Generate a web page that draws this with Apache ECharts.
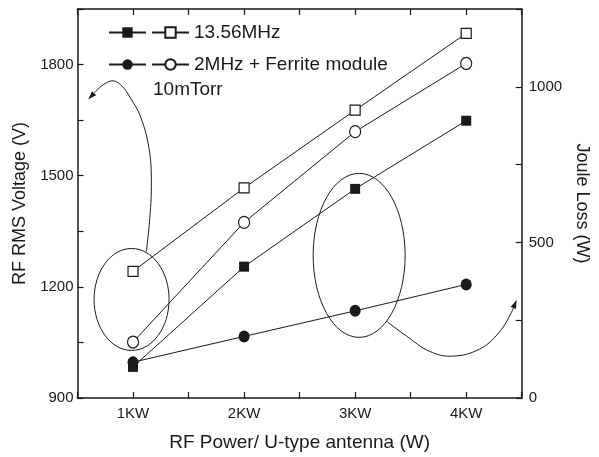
<!DOCTYPE html>
<html>
<head>
<meta charset="utf-8">
<script src="https://cdn.jsdelivr.net/npm/echarts@6/dist/echarts.min.js"></script>
<style>
  html, body { margin: 0; padding: 0; background: #fff; }
  #main { width: 599px; height: 457px; }
</style>
</head>
<body>
<div id="main"></div>
<script>
// RF power per U-type antenna (KW)
const power = [1, 2, 3, 4];
const powerLabels = ['1KW', '2KW', '3KW', '4KW'];

// RF RMS voltage (V), left axis, open markers
const voltage1356 = [1242, 1467, 1677, 1884];
const voltage2MHz = [1051, 1374, 1619, 1803];

// Joule loss (W), right axis, filled markers
const joule1356 = [100, 422, 672, 891];
const joule2MHz = [115, 198, 280, 365];

// annotation anchors, in data units (x power, left axis voltage)
const ellipseLeft = [0.987, 1166];
const ellipseRight = [3.036, 1285];
const arrowLeftPath = [
  [1.12, 1295], [1.152, 1390], [1.165, 1481], [1.146, 1570], [1.068, 1659],
  [0.972, 1712], [0.90, 1742], [0.822, 1756], [0.738, 1747], [0.666, 1728], [0.60, 1707]
];
const arrowRightPath = [
  [3.283, 1107], [3.463, 1067], [3.67, 1026], [3.876, 1013], [4.12, 1032],
  [4.299, 1078], [4.407, 1131], [4.452, 1163]
];

const font = 'Liberation Sans, Arial, Helvetica, sans-serif';
const ink = '#1a1a1a';

function pairs(xs, ys) {
  return xs.map((x, i) => [x, ys[i]]);
}

var chart = echarts.init(document.getElementById('main'));

const axisCommon = {
  axisLine: { show: true, lineStyle: { color: ink, width: 1.5 } },
  axisTick: { show: true, inside: true, length: 6, lineStyle: { color: ink, width: 1.2 } },
  splitLine: { show: false },
  axisLabel: { color: ink, fontSize: 15, fontFamily: font }
};

var option = {
  animation: false,
  backgroundColor: '#fff',
  textStyle: { fontFamily: font, color: ink },
  title: {
    text: '10mTorr',
    left: 153,
    top: 80,
    padding: 0,
    textStyle: { fontSize: 19, fontWeight: 'normal', color: ink, fontFamily: font }
  },
  grid: { left: 77.5, right: 76.5, top: 9, bottom: 58 },
  legend: [{
    data: ['13.56MHz Joule Loss', '13.56MHz'],
    left: 108,
    top: 23,
    padding: 0,
    itemGap: 4,
    itemWidth: 37,
    itemHeight: 13,
    formatter: name => name.indexOf('Joule') >= 0 ? '' : name,
    textStyle: { fontSize: 19, color: ink, fontFamily: font },
    selectedMode: false
  }, {
    data: ['2MHz + Ferrite module Joule Loss', '2MHz + Ferrite module'],
    left: 108,
    top: 55,
    padding: 0,
    itemGap: 4,
    itemWidth: 37,
    itemHeight: 13,
    formatter: name => name.indexOf('Joule') >= 0 ? '' : name,
    textStyle: { fontSize: 19, color: ink, fontFamily: font },
    selectedMode: false
  }],
  xAxis: [{
    type: 'value',
    min: 0.5,
    max: 4.5,
    interval: 0.5,
    name: 'RF Power/ U-type antenna (W)',
    nameLocation: 'middle',
    nameGap: 35,
    nameTextStyle: { fontSize: 19, color: ink, fontFamily: font },
    ...axisCommon,
    axisLabel: {
      ...axisCommon.axisLabel,
      margin: 8,
      formatter: v => {
        const i = power.indexOf(v);
        return i >= 0 ? powerLabels[i] : '';
      }
    }
  }, {
    type: 'value',
    position: 'top',
    min: 0.5,
    max: 4.5,
    interval: 0.5,
    ...axisCommon,
    axisLabel: { show: false }
  }],
  yAxis: [{
    type: 'value',
    position: 'left',
    min: 900,
    max: 1950,
    interval: 150,
    name: 'RF RMS Voltage (V)',
    nameLocation: 'middle',
    nameGap: 43,
    nameTextStyle: { fontSize: 18, color: ink, fontFamily: font },
    ...axisCommon,
    axisLabel: {
      ...axisCommon.axisLabel,
      margin: 4,
      formatter: v => (v % 300 === 0 ? String(v) : '')
    }
  }, {
    type: 'value',
    position: 'right',
    min: 0,
    max: 1250,
    interval: 250,
    name: 'Joule Loss (W)',
    nameLocation: 'middle',
    nameRotate: -90,
    nameGap: 50,
    nameTextStyle: { fontSize: 18, color: ink, fontFamily: font },
    ...axisCommon,
    axisLabel: {
      ...axisCommon.axisLabel,
      margin: 7,
      formatter: v => (v % 500 === 0 ? String(v) : '')
    }
  }],
  series: [{
    name: '13.56MHz',
    type: 'line',
    yAxisIndex: 0,
    data: pairs(power, voltage1356),
    symbol: 'rect',
    symbolSize: 10,
    itemStyle: { color: '#fff', borderColor: ink, borderWidth: 1.2 },
    lineStyle: { color: ink, width: 1 },
    z: 3
  }, {
    name: '2MHz + Ferrite module',
    type: 'line',
    yAxisIndex: 0,
    data: pairs(power, voltage2MHz),
    symbol: 'circle',
    symbolSize: [11, 12],
    itemStyle: { color: '#fff', borderColor: ink, borderWidth: 1.2 },
    lineStyle: { color: ink, width: 1 },
    z: 3
  }, {
    name: '13.56MHz Joule Loss',
    type: 'line',
    yAxisIndex: 1,
    data: pairs(power, joule1356),
    symbol: 'rect',
    symbolSize: 10,
    itemStyle: { color: ink, borderColor: ink, borderWidth: 0 },
    lineStyle: { color: ink, width: 1 },
    z: 3
  }, {
    name: '2MHz + Ferrite module Joule Loss',
    type: 'line',
    yAxisIndex: 1,
    data: pairs(power, joule2MHz),
    symbol: 'circle',
    symbolSize: [11, 12],
    itemStyle: { color: ink, borderColor: ink, borderWidth: 0 },
    lineStyle: { color: ink, width: 1 },
    z: 4
  }]
};

chart.setOption(option);

// annotations: ellipses and curved arrows placed through the axes
function toPx(p) {
  return chart.convertToPixel({ xAxisIndex: 0, yAxisIndex: 0 }, p);
}

function arrowHead(path) {
  const tip = path[path.length - 1];
  const prev = path[path.length - 2];
  const dx = tip[0] - prev[0], dy = tip[1] - prev[1];
  const len = Math.sqrt(dx * dx + dy * dy) || 1;
  const ux = dx / len, uy = dy / len;
  const bx = tip[0] - ux * 8, by = tip[1] - uy * 8;
  return [tip, [bx - uy * 3, by + ux * 3], [bx + uy * 3, by - ux * 3]];
}

const c1 = toPx(ellipseLeft);
const c2 = toPx(ellipseRight);
const p1 = arrowLeftPath.map(toPx);
const p2 = arrowRightPath.map(toPx);

chart.setOption({
  graphic: [
    { type: 'ellipse', shape: { cx: c1[0], cy: c1[1], rx: 37.5, ry: 51 },
      style: { fill: 'none', stroke: ink, lineWidth: 1 }, z: 10 },
    { type: 'ellipse', shape: { cx: c2[0], cy: c2[1], rx: 46, ry: 82 },
      style: { fill: 'none', stroke: ink, lineWidth: 1 }, z: 10 },
    { type: 'polyline', shape: { points: p1, smooth: 0.4 },
      style: { fill: 'none', stroke: ink, lineWidth: 1 }, z: 10 },
    { type: 'polygon', shape: { points: arrowHead(p1) }, style: { fill: ink }, z: 10 },
    { type: 'polyline', shape: { points: p2, smooth: 0.4 },
      style: { fill: 'none', stroke: ink, lineWidth: 1 }, z: 10 },
    { type: 'polygon', shape: { points: arrowHead(p2) }, style: { fill: ink }, z: 10 }
  ]
});
</script>
</body>
</html>
